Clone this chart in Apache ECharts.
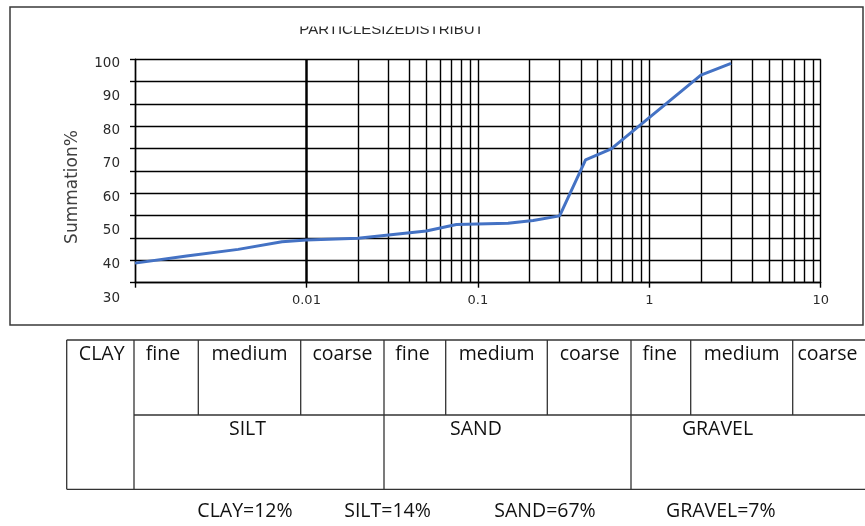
<!DOCTYPE html>
<html><head><meta charset="utf-8">
<script src="https://cdn.jsdelivr.net/npm/echarts@6/dist/echarts.min.js"></script>
<style>html,body{margin:0;padding:0;background:#fff}#c{width:865px;height:526px}</style>
</head><body><div id="c"></div>
<script>
// ---- data ----
const chartTitle = 'PARTICLESIZEDISTRIBUT';
const yAxisTitle = 'Summation%';
const particleSizes = [0.001, 0.002, 0.004, 0.0072, 0.01, 0.02, 0.05, 0.075, 0.15, 0.21, 0.3, 0.425, 0.6, 2, 3];
const summationPct  = [40.4, 42.5, 44.5, 46.8, 47.3, 47.8, 50.0, 51.9, 52.3, 53.1, 54.5, 71.2, 74.5, 96.5, 100];
const xTickLabels = ['', '0.01', '0.1', '1', '10'];
const yTickLabels = ['30', '40', '50', '60', '70', '80', '90', '100'];
const tableTopRow = ['CLAY', 'fine', 'medium', 'coarse', 'fine', 'medium', 'coarse', 'fine', 'medium', 'coarse'];
const tableGroups = ['SILT', 'SAND', 'GRAVEL'];
const summaryTexts = ['CLAY=12%', 'SILT=14%', 'SAND=67%', 'GRAVEL=7%'];

// ---- layout ----
const plotL = 135, plotW = 685.7, plotTop = 59.3, plotH = 223.4;
const dataTop = 63.3, dataH = 234.7;
const gridW = 1.4;
const minorGrid = [];
[0.001, 0.01, 0.1, 1].forEach(d => { for (let k = 2; k <= 9; k++) minorGrid.push({ xAxis: +(d * k).toPrecision(3) }); });

const topRowX = [101.7, 163, 249.5, 342.5, 412.5, 496.7, 589.7, 659.7, 741.7, 827.5];
const groupX = [247.5, 476, 717.5];
const summaryX = [245, 387.5, 545, 720.8];
const tFont = '"Open Sans", sans-serif';
const tColor = '#111';
const tSize = 19.5;
const lineCol = '#333';
const lines = [];
function L(x1, y1, x2, y2) { lines.push({ type: 'line', silent: true, shape: { x1, y1, x2, y2 }, style: { stroke: lineCol, lineWidth: 1.3 } }); }
const T0 = 340, TM = 415, TB = 489.3;
L(66.7, T0, 866, T0); L(134, TM, 866, TM); L(66.7, TB, 866, TB);
[66.7, 134, 384, 631].forEach(x => L(x, T0, x, TB));
[198.3, 300.7, 445.7, 547.3, 690.7, 792.7].forEach(x => L(x, T0, x, TM));

const texts = [];
function T(str, x, y) { texts.push({ type: 'text', silent: true, x, y, style: { text: str, font: tSize + 'px ' + tFont, fill: tColor, textAlign: 'center', textVerticalAlign: 'middle' } }); }
tableTopRow.forEach((s, i) => T(s, topRowX[i], 354));
tableGroups.forEach((s, i) => T(s, groupX[i], 429));
summaryTexts.forEach((s, i) => T(s, summaryX[i], 511));

const chart = echarts.init(document.getElementById('c'), null, { renderer: 'canvas' });
chart.setOption({
  animation: false,
  backgroundColor: '#fff',
  grid: [
    { left: plotL, top: plotTop, width: plotW, height: plotH, containLabel: false },
    { left: plotL, top: dataTop, width: plotW, height: dataH, containLabel: false }
  ],
  xAxis: [
    {
      type: 'log', logBase: 10, min: 0.001, max: 10, gridIndex: 0,
      axisLine: { show: true, lineStyle: { color: '#000', width: gridW } },
      axisTick: { show: true, inside: false, length: 5, lineStyle: { color: '#000', width: gridW } },
      axisLabel: {
        show: true, margin: 11, color: '#2a2a2a', fontSize: 13, fontFamily: 'DejaVu Sans',
        formatter: v => { const i = Math.round(Math.log10(v)) + 3; return xTickLabels[i] !== undefined ? xTickLabels[i] : ''; }
      },
      splitLine: { show: true, lineStyle: { color: '#000', width: gridW } },
      minorTick: { show: false }, minorSplitLine: { show: false }
    },
    { type: 'log', logBase: 10, min: 0.001, max: 10, gridIndex: 1, show: false }
  ],
  yAxis: [
    {
      type: 'value', min: 0, max: 10, interval: 1, gridIndex: 0,
      axisLine: { show: true, lineStyle: { color: '#000', width: gridW } },
      axisTick: { show: true, inside: false, length: 5, lineStyle: { color: '#000', width: gridW } },
      axisLabel: { show: false },
      splitLine: { show: true, lineStyle: { color: '#000', width: gridW } }
    },
    {
      type: 'value', min: 30, max: 100, interval: 10, gridIndex: 1,
      axisLine: { show: false }, axisTick: { show: false },
      splitLine: { show: false },
      axisLabel: {
        show: true, margin: 15, color: '#2a2a2a', fontSize: 13.5, fontFamily: 'DejaVu Sans',
        formatter: v => yTickLabels[Math.round((v - 30) / 10)] || ''
      }
    }
  ],
  series: [
    {
      type: 'line', xAxisIndex: 0, yAxisIndex: 0, data: [], silent: true,
      markLine: {
        silent: true, symbol: ['none', 'none'], label: { show: false },
        lineStyle: { color: '#000', width: gridW, type: 'solid' },
        emphasis: { disabled: true },
        data: minorGrid
      }
    },
    {
      type: 'line', xAxisIndex: 1, yAxisIndex: 1,
      data: particleSizes.map((x, i) => [x, summationPct[i]]),
      symbol: 'none', smooth: false,
      lineStyle: { color: '#4472C4', width: 3 },
      z: 5
    }
  ],
  graphic: [
    { type: 'rect', silent: true, shape: { x: 10, y: 7, width: 853, height: 318 }, style: { fill: 'none', stroke: '#3a3a3a', lineWidth: 1.5 } },
    { type: 'text', silent: true, x: 391.5, y: 29.5, style: { text: chartTitle, font: '15px "Liberation Sans", sans-serif', fill: '#2a2a2a', textAlign: 'center', textVerticalAlign: 'middle' } },
    { type: 'rect', silent: true, z: 100, shape: { x: 285, y: 18, width: 215, height: 8.5 }, style: { fill: '#fff' } },
    { type: 'text', silent: true, x: 73, y: 187, rotation: Math.PI / 2, style: { text: yAxisTitle, font: '17px "DejaVu Sans", sans-serif', fill: '#404040', textAlign: 'center', textVerticalAlign: 'middle' } },
    ...lines,
    ...texts
  ]
});
</script>
</body></html>
